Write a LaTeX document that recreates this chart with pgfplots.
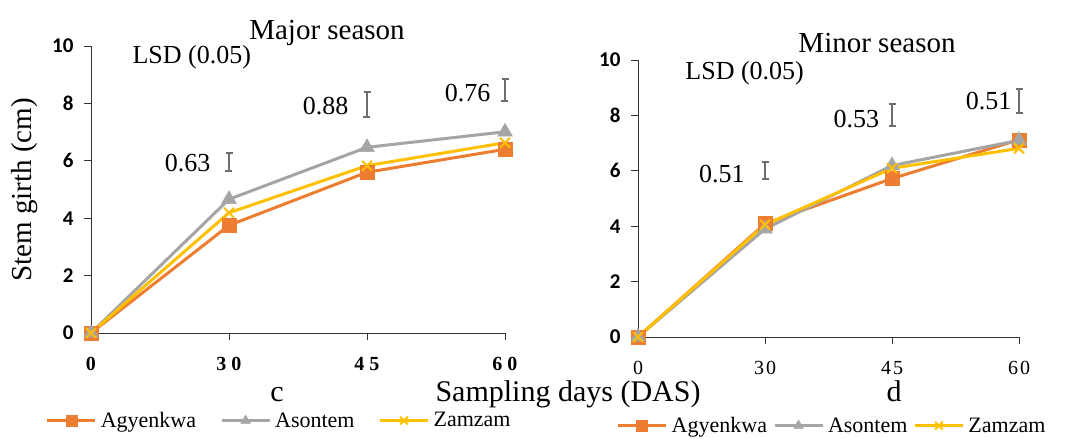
\documentclass[border=0pt]{standalone}
\usepackage{fontspec}
\setmainfont{Liberation Serif}
\newfontfamily\calb{Carlito}
\usepackage{pgfplots}
\pgfplotsset{compat=1.18}
\definecolor{orng}{HTML}{ED7D31}
\definecolor{gry}{HTML}{A5A5A5}
\definecolor{gold}{HTML}{FFC000}
\definecolor{lsd}{HTML}{6E6E6E}
\tikzset{lsdtxt/.style={font=\fontsize{26}{26}\selectfont, anchor=center}}
\pgfplotsset{
  base/.style={
    scale only axis, clip=false,
    xmin=0, xmax=3, ymin=0, ymax=10,
    axis x line*=bottom, axis y line*=left,
    axis line style={-, black!80, line width=0.8pt},
    tick style={black!80, line width=0.8pt},
    tick align=outside, major tick length=7pt,
    xtick={0,1,2,3}, ytick={0,2,4,6,8,10},
    yticklabels={0,2,4,6,8,10},
    yticklabel style={font=\calb\bfseries\fontsize{21}{21}\selectfont, xshift=-7pt},
    legend columns=3,
    legend image code/.code={\draw[mark repeat=2,mark phase=2,##1,mark size=5.5pt] plot coordinates {(0pt,0pt) (24pt,0pt) (48pt,0pt)};},
  },
  ag/.style={orng, line width=3pt, mark=square*, mark size=7pt, mark options={line width=0.5pt}},
  as/.style={gry, line width=3pt, mark=triangle*, mark size=8.5pt, mark options={line width=0.5pt}},
  zz/.style={gold, line width=3pt, mark=x, mark size=7pt, mark options={line width=2pt}},
  lsdbar/.style={draw=none, no marks, forget plot,
    error bars/.cd, y dir=both, y explicit,
    error bar style={lsd, line width=2pt},
    error mark options={lsd, line width=2pt, mark size=3.5pt, rotate=90}},
}
\begin{document}
\begin{tikzpicture}
\useasboundingbox (0,0) rectangle (1072pt,439pt);
% ---------------- Major season
\begin{axis}[base, at={(91pt,106pt)}, anchor=south west, width=414pt, height=287pt,
  xticklabels={0,3\hspace{5pt}0,4\hspace{5pt}5,6\hspace{5pt}0},
  xticklabel style={font=\bfseries\fontsize{20}{20}\selectfont, yshift=-14pt},
  legend style={at={(0.457,-0.305)}, anchor=center, draw=none, fill=none,
    font=\fontsize{22}{22}\selectfont, nodes={inner sep=4pt},
    /tikz/every even column/.append style={column sep=20pt}}]
\addplot[ag] coordinates {(0,0) (1,3.75) (2,5.6) (3,6.4)};
\addplot[as] coordinates {(0,0) (1,4.66) (2,6.47) (3,7.01)};
\addplot[zz] coordinates {(0,0) (1,4.19) (2,5.83) (3,6.63)};
\legend{Agyenkwa,Asontem,Zamzam}
\addplot[lsdbar] coordinates {(1,5.96) +- (0,0.315) (2,7.97) +- (0,0.44) (3,8.46) +- (0,0.38)};
\node[lsdtxt] at (axis cs:0.70,5.92) {0.63};
\node[lsdtxt] at (axis cs:1.70,7.91) {0.88};
\node[lsdtxt] at (axis cs:2.73,8.36) {0.76};
\node[lsdtxt] at (axis cs:0.73,9.6) {LSD (0.05)};
\end{axis}
% ---------------- Minor season
\begin{axis}[base, at={(638pt,102pt)}, anchor=south west, width=381pt, height=277pt,
  xticklabels={0,3\hspace{2pt}0,4\hspace{2pt}5,6\hspace{2pt}0},
  xticklabel style={font=\fontsize{20}{20}\selectfont, yshift=-14pt},
  legend style={at={(0.512,-0.32)}, anchor=center, draw=none, fill=none,
    font=\fontsize{22}{22}\selectfont, nodes={inner sep=4pt},
    /tikz/every even column/.append style={column sep=2pt}}]
\addplot[ag] coordinates {(0,0) (1,4.09) (2,5.72) (3,7.12)};
\addplot[as] coordinates {(0,0) (1,3.9) (2,6.19) (3,7.1)};
\addplot[zz] coordinates {(0,0) (1,4.05) (2,6.09) (3,6.81)};
\legend{Agyenkwa,Asontem,Zamzam}
\addplot[lsdbar] coordinates {(1,6.0) +- (0,0.3) (2,8.01) +- (0,0.39) (3,8.52) +- (0,0.42)};
\node[lsdtxt] at (axis cs:0.66,5.88) {0.51};
\node[lsdtxt] at (axis cs:1.72,7.87) {0.53};
\node[lsdtxt] at (axis cs:2.76,8.52) {0.51};
\node[lsdtxt] at (axis cs:0.84,9.53) {LSD (0.05)};
\end{axis}
% ---------------- texts
\node[anchor=base, font=\fontsize{29}{29}\selectfont] at (327pt,399pt) {Major season};
\node[anchor=base, font=\fontsize{29}{29}\selectfont] at (877pt,386pt) {Minor season};
\node[anchor=base, font=\fontsize{30}{30}\selectfont] at (277pt,37pt) {c};
\node[anchor=base, font=\fontsize{30}{30}\selectfont] at (568pt,37pt) {Sampling days (DAS)};
\node[anchor=base, font=\fontsize{30}{30}\selectfont] at (894pt,37pt) {d};
\node[rotate=90, anchor=center, font=\fontsize{29}{29}\selectfont] at (25pt,249pt) {Stem girth (cm)};
\end{tikzpicture}
\end{document}
